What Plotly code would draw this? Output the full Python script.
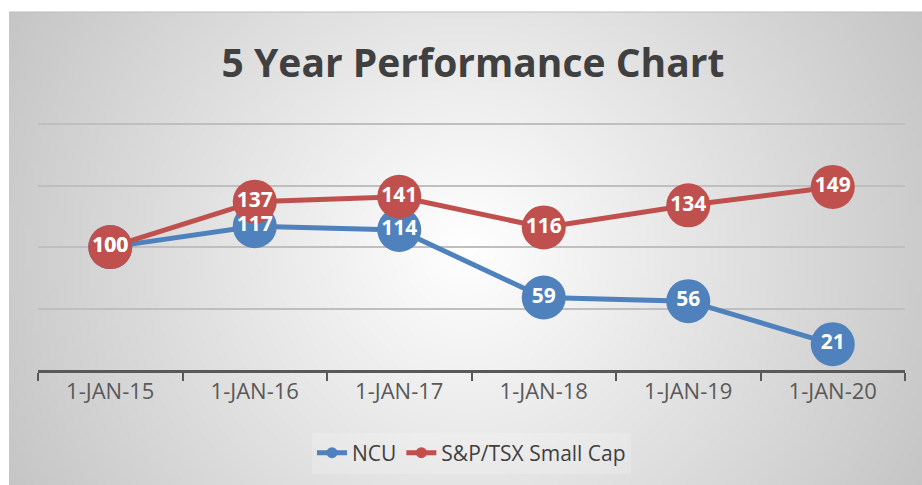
import base64
import math
import struct
import zlib

import plotly.graph_objects as go

# ---------------- data ----------------
categories = ["1-JAN-15", "1-JAN-16", "1-JAN-17", "1-JAN-18", "1-JAN-19", "1-JAN-20"]
ncu_values = [100, 117, 114, 59, 56, 21]
tsx_values = [100, 137, 141, 116, 134, 149]
series_names = ["NCU", "S&P/TSX Small Cap"]

BLUE = "#4F81BD"
RED = "#C0504D"
W, H = 922, 485
ML, MR, MT, MB = 38, 17, 123, 115
PW, PH = W - ML - MR, H - MT - MB
YMAX = 201

# ---------------- radial gradient background (generated PNG) ----------------
def make_png(w, h, pixel):
    rows = []
    for j in range(h):
        rows.append(b"\x00" + bytes(pixel(i, j) for i in range(w)))
    raw = b"".join(rows)

    def chunk(tag, data):
        c = struct.pack(">I", len(data)) + tag + data
        return c + struct.pack(">I", zlib.crc32(tag + data) & 0xFFFFFFFF)

    sig = b"\x89PNG\r\n\x1a\n"
    ihdr = struct.pack(">IIBBBBB", w, h, 8, 0, 0, 0, 0)
    return sig + chunk(b"IHDR", ihdr) + chunk(b"IDAT", zlib.compress(raw, 9)) + chunk(b"IEND", b"")

BX0, BY0, BX1, BY1 = 9, 12, 922, 485          # chart-area rectangle in pixels
GW, GH = 229, 119
cx, cy = GW / 2.0, GH / 2.0
R = math.hypot(cx, cy)

def px(i, j):
    d = min(1.0, math.hypot(i + 0.5 - cx, (j + 0.5 - cy)) / R)
    return int(round(255 - 58 * d))

png_uri = "data:image/png;base64," + base64.b64encode(make_png(GW, GH, px)).decode()

def to_paper_x(p):
    return (p - ML) / PW

def to_paper_y(p):
    return (H - MB - p) / PH

# ---------------- figure ----------------
fig = go.Figure()

label_font = dict(family="Open Sans", size=21, color="white", weight="bold")
series = [(series_names[0], ncu_values, BLUE), (series_names[1], tsx_values, RED)]

# lines + markers
for name, vals, col in series:
    fig.add_trace(go.Scatter(
        x=categories, y=vals, mode="lines+markers",
        line=dict(color=col, width=5),
        marker=dict(size=44, color=col),
        showlegend=False, cliponaxis=False, hoverinfo="x+y", name=name,
    ))

# data labels drawn above all series
for name, vals, col in series:
    fig.add_trace(go.Scatter(
        x=categories, y=vals, mode="text",
        text=[str(v) for v in vals], textposition="middle center",
        textfont=label_font, showlegend=False, cliponaxis=False,
        hoverinfo="skip", name=name,
    ))

# legend entries
for name, vals, col in series:
    fig.add_trace(go.Scatter(
        x=[None], y=[None], mode="lines+markers", name=name,
        line=dict(color=col, width=5), marker=dict(size=11, color=col),
    ))

fig.update_layout(
    width=W, height=H,
    margin=dict(l=ML, r=MR, t=MT, b=MB, pad=0),
    paper_bgcolor="white",
    plot_bgcolor="rgba(0,0,0,0)",
    title=dict(
        text="5 Year Performance Chart",
        font=dict(family="Open Sans", size=39, color="#404040", weight="bold"),
        x=473 / W, xanchor="center", y=1 - 63 / H, yanchor="middle",
        xref="container", yref="container",
    ),
    xaxis=dict(
        type="category", categoryorder="array", categoryarray=categories,
        range=[-0.5, 5.5], tickson="boundaries",
        ticks="outside", ticklen=8, tickwidth=2, tickcolor="#595959",
        showline=True, linecolor="#595959", linewidth=3,
        showgrid=False, zeroline=False,
        tickfont=dict(family="Open Sans", size=22, color="#595959"),
    ),
    yaxis=dict(
        range=[0, YMAX], tickvals=[50, 100, 150, 200], showticklabels=False, ticks="",
        showgrid=True, gridcolor="#BFBFBF", gridwidth=1.5,
        zeroline=False, showline=False,
    ),
    legend=dict(
        orientation="h", x=0.5, xanchor="center",
        y=to_paper_y(453), yanchor="middle",
        font=dict(family="Open Sans", size=21, color="#404040"),
        bgcolor="rgba(255,255,255,0.18)",
    ),
    images=[dict(
        source=png_uri, xref="paper", yref="paper",
        x=to_paper_x(BX0), y=to_paper_y(BY0),
        sizex=(BX1 - BX0) / PW, sizey=(BY1 - BY0) / PH,
        xanchor="left", yanchor="top", sizing="stretch", layer="below",
    )],
    shapes=[dict(
        type="line", xref="paper", yref="paper",
        x0=to_paper_x(BX0), x1=to_paper_x(BX1), y0=to_paper_y(BY0), y1=to_paper_y(BY0),
        line=dict(color="#BDBDBD", width=1), layer="below",
    )],
)

fig.write_html(
    "out.html",
    config={"displayModeBar": False},
    post_script="document.body.style.margin='0';",
)
